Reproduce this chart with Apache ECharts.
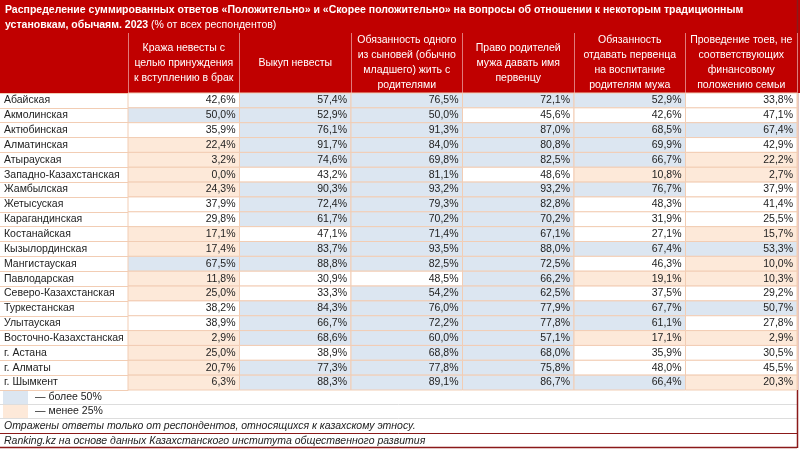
<!DOCTYPE html>
<html><head><meta charset="utf-8">
<script src="https://cdn.jsdelivr.net/npm/echarts@6/dist/echarts.min.js"></script>
<style>html,body{margin:0;padding:0;background:#fff}#c{width:800px;height:450px}</style>
</head><body><div id="c"></div>
<script>
const regions = ['Абайская','Акмолинская','Актюбинская','Алматинская','Атырауская','Западно-Казахстанская','Жамбылская','Жетысуская','Карагандинская','Костанайская','Кызылординская','Мангистауская','Павлодарская','Северо-Казахстанская','Туркестанская','Улытауская','Восточно-Казахстанская','г. Астана','г. Алматы','г. Шымкент'];
const headers = ['Кража невесты с\nцелью принуждения\nк вступлению в брак','Выкуп невесты','Обязанность одного\nиз сыновей (обычно\nмладшего) жить с\nродителями','Право родителей\nмужа давать имя\nпервенцу','Обязанность\nотдавать первенца\nна воспитание\nродителям мужа','Проведение тоев, не\nсоответствующих\nфинансовому\nположению семьи'];
const brideKidnapping = [42.6,50.0,35.9,22.4,3.2,0.0,24.3,37.9,29.8,17.1,17.4,67.5,11.8,25.0,38.2,38.9,2.9,25.0,20.7,6.3];
const brideRansom = [57.4,52.9,76.1,91.7,74.6,43.2,90.3,72.4,61.7,47.1,83.7,88.8,30.9,33.3,84.3,66.7,68.6,38.9,77.3,88.3];
const sonLivesWithParents = [76.5,50.0,91.3,84.0,69.8,81.1,93.2,79.3,70.2,71.4,93.5,82.5,48.5,54.2,76.0,72.2,60.0,68.8,77.8,89.1];
const parentsNameFirstborn = [72.1,45.6,87.0,80.8,82.5,48.6,93.2,82.8,70.2,67.1,88.0,72.5,66.2,62.5,77.9,77.8,57.1,68.0,75.8,86.7];
const firstbornToParents = [52.9,42.6,68.5,69.9,66.7,10.8,76.7,48.3,31.9,27.1,67.4,46.3,19.1,37.5,67.7,61.1,17.1,35.9,48.0,66.4];
const lavishToi = [33.8,47.1,67.4,42.9,22.2,2.7,37.9,41.4,25.5,15.7,53.3,10.0,10.3,29.2,50.7,27.8,2.9,30.5,45.5,20.3];
const titleLine1 = 'Распределение суммированных ответов «Положительно» и «Скорее положительно» на вопросы об отношении к некоторым традиционным';
const titleLine2a = 'установкам, обычаям. 2023';
const titleLine2b = ' (% от всех респондентов)';
const legendHigh = '— более 50%';
const legendLow = '— менее 25%';
const note = 'Отражены ответы только от респондентов, относящихся к казахскому этносу.';
const source = 'Ranking.kz на основе данных Казахстанского института общественного развития';

const columns = [brideKidnapping, brideRansom, sonLivesWithParents, parentsNameFirstborn, firstbornToParents, lavishToi];
const data = [];
columns.forEach((col, ci) => col.forEach((v, ri) => data.push([ci, ri, v])));

const W = 800, RED = '#C00000', PEACH = '#F2CDB4', BLUE = '#DCE6F1', ORANGE = '#FDE9D9', DARKRED = '#8B1A1A';
const FONT = 'Liberation Sans';
const FS = 10.5;
const gTop = 93, gLeft = 128, gRight = 3, gBottom = 60;
const H = 450;
const tableBottom = H - gBottom;
const f = (style) => style + ' ' + FS + 'px "' + FONT + '"';

const chart = echarts.init(document.getElementById('c'), null, {renderer: 'canvas'});
chart.setOption({
  animation: false,
  backgroundColor: '#fff',
  textStyle: {fontFamily: FONT},
  grid: {left: gLeft, right: gRight, top: gTop, bottom: gBottom},
  xAxis: {
    type: 'category', position: 'top', data: headers,
    axisLine: {show: false},
    axisTick: {show: true, length: 60, lineStyle: {color: '#E07A7A'}},
    axisLabel: {interval: 0, color: '#fff', fontSize: FS, lineHeight: 15, margin: 30, verticalAlign: 'middle', fontFamily: FONT},
    splitLine: {show: true, lineStyle: {color: PEACH}}
  },
  yAxis: {
    type: 'category', inverse: true, data: regions,
    axisLine: {show: true, lineStyle: {color: PEACH}},
    axisTick: {show: true, length: gLeft, lineStyle: {color: PEACH}},
    axisLabel: {interval: 0, align: 'left', margin: gLeft - 4, color: '#222', fontSize: FS, fontFamily: FONT}
  },
  graphic: [
    {type: 'rect', z: -1, shape: {x: 0, y: 0, width: W, height: gTop}, style: {fill: RED}},
    {type: 'text', left: 5, top: 5, style: {text: titleLine1, fill: '#fff', font: f('bold')}},
    {type: 'text', left: 5, top: 20, style: {
      text: '{b|' + titleLine2a + '}{r|' + titleLine2b + '}',
      rich: {b: {fill: '#fff', font: f('bold')}, r: {fill: '#fff', font: f('normal')}}
    }},
    {type: 'rect', shape: {x: 3, y: tableBottom + 1, width: 25, height: 13}, style: {fill: BLUE}},
    {type: 'rect', shape: {x: 3, y: tableBottom + 15, width: 25, height: 13}, style: {fill: ORANGE}},
    {type: 'text', left: 35, top: tableBottom + 2, style: {text: legendHigh, fill: '#222', font: f('normal')}},
    {type: 'text', left: 35, top: tableBottom + 16, style: {text: legendLow, fill: '#222', font: f('normal')}},
    {type: 'line', shape: {x1: 0, y1: tableBottom + 14.5, x2: W - gRight, y2: tableBottom + 14.5}, style: {stroke: '#DDDDDD'}},
    {type: 'line', shape: {x1: 0, y1: tableBottom + 28.5, x2: W - gRight, y2: tableBottom + 28.5}, style: {stroke: '#DDDDDD'}},
    {type: 'text', left: 4, top: tableBottom + 31, style: {text: note, fill: '#222', font: f('italic')}},
    {type: 'line', shape: {x1: 0, y1: tableBottom + 43.5, x2: W - gRight, y2: tableBottom + 43.5}, style: {stroke: DARKRED}},
    {type: 'text', left: 4, top: tableBottom + 46, style: {text: source, fill: '#222', font: f('italic')}},
    {type: 'line', shape: {x1: 0, y1: H - 2.5, x2: W - gRight, y2: H - 2.5}, style: {stroke: DARKRED, lineWidth: 1.5}},
    {type: 'line', shape: {x1: W - gRight + 0.5, y1: 0, x2: W - gRight + 0.5, y2: H - 2}, style: {stroke: DARKRED, lineWidth: 1.5}}
  ],
  series: [{
    type: 'custom',
    data: data,
    encode: {x: 0, y: 1},
    renderItem: function (params, api) {
      const v = api.value(2);
      const c = api.coord([api.value(0), api.value(1)]);
      const s = api.size([1, 1]);
      const x = c[0] - s[0] / 2, y = c[1] - s[1] / 2;
      const fill = v >= 50 ? BLUE : (v <= 25 ? ORANGE : '#FFFFFF');
      return {
        type: 'group',
        children: [
          {type: 'rect', shape: {x: x, y: y, width: s[0], height: s[1]}, style: {fill: fill, stroke: PEACH, lineWidth: 1}},
          {type: 'text', style: {x: x + s[0] - 4, y: c[1], text: v.toFixed(1).replace('.', ',') + '%', align: 'right', verticalAlign: 'middle', fill: '#222', font: f('normal')}}
        ]
      };
    }
  }]
});
</script></body></html>
